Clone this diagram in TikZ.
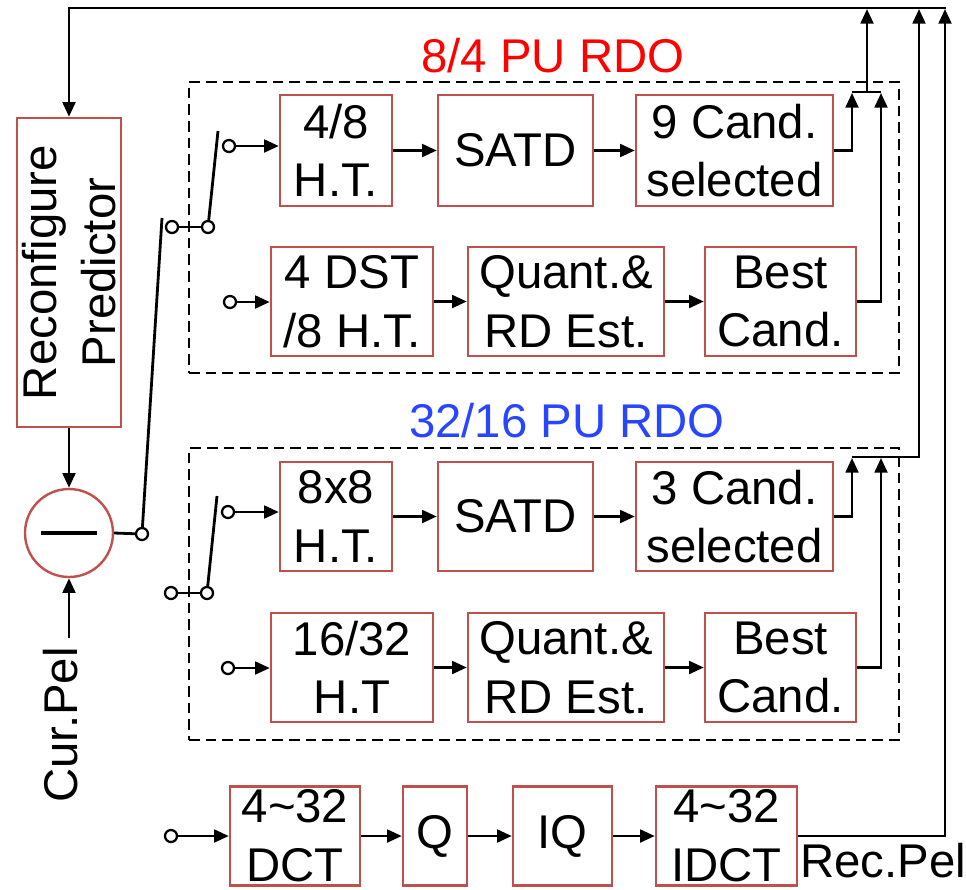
\documentclass[tikz,border=0pt]{standalone}
\usepackage{fontspec}
\setmainfont{Liberation Sans}
\usetikzlibrary{arrows.meta,calc}
\definecolor{boxred}{RGB}{192,80,77}
\definecolor{ttlred}{RGB}{255,0,0}
\definecolor{ttlblue}{RGB}{40,70,255}
\begin{document}
\begin{tikzpicture}[x=0.75pt,y=-0.75pt,
  bsz/.style 2 args={minimum width=#1*0.75pt, minimum height=#2*0.75pt},
  blk/.style={draw=boxred, line width=1.8pt, inner sep=0pt, align=center, font=\fontsize{35.5}{44}\selectfont},
  ln/.style={line width=2.1pt, draw=black},
  arr/.style={ln, -{Triangle[length=11pt,width=9.5pt]}},
  term/.style={circle, draw=black, line width=1.7pt, inner sep=0pt, minimum size=9pt, fill=white},
  dbox/.style={draw=black, line width=2.1pt, dash pattern=on 8pt off 4.5pt, inner sep=0pt},
  lbl/.style={font=\fontsize{35.5}{44}\selectfont, inner sep=0pt, align=center}
]
\useasboundingbox[fill=white] (0,0) rectangle (966,889);

% dashed groups
\node[dbox, bsz={710}{291}] (g1) at (544,227.5) {};
\node[dbox, bsz={710}{292}] (g2) at (544,594) {};
\node[lbl, text=ttlred, anchor=base] (t1) at (553,72) {8/4 PU RDO};
\node[lbl, text=ttlblue, anchor=base] (t2) at (567,437) {32/16 PU RDO};

% predictor and subtractor
\node[blk, bsz={104}{309}] (recon) at (69,272.5) {};
\node[lbl, rotate=90] (recontxt) at (recon.center) {Reconfigure\\Predictor};
\node[circle, draw=boxred, line width=1.8pt, minimum size=66pt, inner sep=0pt] (sub) at (69,533) {};
\coordinate (mL) at (41,533);
\coordinate (mR) at (97,533);
\draw[line width=2.4pt] (mL) -- (mR);
\node[lbl, rotate=90] (cur) at (61,725) {Cur.Pel};
\coordinate (curtop) at (69,638);
\draw[arr] (curtop) -- (sub.south);
\draw[arr] (recon.south) -- (sub.north);

% row 1
\node[blk, bsz={112}{111}] (ht48) at (336,150.5) {4/8\\H.T.};
\node[blk, bsz={155}{111}] (satd1) at (515.5,150.5) {SATD};
\node[blk, bsz={197}{111}] (cand9) at (734.5,150.5) {9 Cand.\\selected};
% row 2
\node[blk, bsz={162}{109}] (dst) at (352,301.5) {4 DST\\/8 H.T.};
\node[blk, bsz={196}{109}] (qnt1) at (566,301.5) {Quant.\&\\RD Est.};
\node[blk, bsz={151}{109}] (best1) at (780.5,301.5) {Best\\Cand.};
% row 3
\node[blk, bsz={112}{109}] (ht88) at (336,516.5) {8x8\\H.T.};
\node[blk, bsz={155}{109}] (satd2) at (515.5,516.5) {SATD};
\node[blk, bsz={197}{109}] (cand3) at (734.5,516.5) {3 Cand.\\selected};
% row 4
\node[blk, bsz={162}{109}] (h1632) at (352,667.5) {16/32\\H.T};
\node[blk, bsz={196}{109}] (qnt2) at (566,667.5) {Quant.\&\\RD Est.};
\node[blk, bsz={151}{109}] (best2) at (780.5,667.5) {Best\\Cand.};
% row 5
\node[blk, bsz={130}{99}] (dct) at (295,836) {4\textasciitilde32\\DCT};
\node[blk, bsz={64}{99}] (qq) at (435,836) {Q};
\node[blk, bsz={99}{99}] (iq) at (562.5,836) {IQ};
\node[blk, bsz={141}{99}] (idct) at (726.5,836) {4\textasciitilde32\\IDCT};
\node[lbl, anchor=base west] (rec) at (800,877) {Rec.Pel};

% switches
\node[term] (s0) at (142,534) {};
\draw[ln] (sub.east) -- (s0);
\coordinate (bl0) at (162,218);
\draw[ln] (s0) -- (bl0);
\node[term] (u1) at (172,227) {};
\node[term] (u2) at (208,227) {};
\draw[ln] (u1) -- (u2);
\coordinate (bl1) at (218,131);
\draw[ln] (u2) -- (bl1);
\node[term] (u3) at (229,146) {};
\node[term] (u4) at (230,302) {};
\node[term] (l1) at (171,593) {};
\node[term] (l2) at (207,593) {};
\draw[ln] (l1) -- (l2);
\coordinate (bl2) at (217,496);
\draw[ln] (l2) -- (bl2);
\node[term] (l3) at (228,512) {};
\node[term] (l4) at (228,668) {};
\node[term] (b0) at (171,836) {};

\draw[arr] (u3) -- (u3 -| ht48.west);
\draw[arr] (u4) -- (u4 -| dst.west);
\draw[arr] (l3) -- (l3 -| ht88.west);
\draw[arr] (l4) -- (l4 -| h1632.west);
\draw[arr] (b0) -- (b0 -| dct.west);

% row arrows
\draw[arr] (ht48) -- (satd1);
\draw[arr] (satd1) -- (cand9);
\draw[arr] (dst) -- (qnt1);
\draw[arr] (qnt1) -- (best1);
\draw[arr] (ht88) -- (satd2);
\draw[arr] (satd2) -- (cand3);
\draw[arr] (h1632) -- (qnt2);
\draw[arr] (qnt2) -- (best2);
\draw[arr] (dct) -- (qq);
\draw[arr] (qq) -- (iq);
\draw[arr] (iq) -- (idct);

% top feedback line
\coordinate (tl) at (69,8);
\coordinate (tr) at (946,8);
\coordinate (top1) at (867,8);
\coordinate (top2) at (919,8);
\coordinate (top3) at (945,8);
\draw[arr] (tr) -- (tl) -- (recon.north);

% 8/4 outputs
\coordinate (j1a) at (852,92);
\coordinate (j1m) at (867,92);
\coordinate (j1b) at (881,92);
\draw[ln] (j1a) -- (j1b);
\draw[arr, shorten >=0.7pt] (cand9.east) -| (j1a);
\draw[arr, shorten >=0.7pt] (best1.east) -| (j1b);
\draw[arr, shorten >=0.7pt] (j1m) -- (top1);

% 32/16 outputs
\coordinate (j2a) at (852,457);
\coordinate (j2b) at (881,457);
\coordinate (j2c) at (919,457);
\draw[arr, shorten >=0.7pt] (j2a) -- (j2c) -- (top2);
\draw[arr, shorten >=0.7pt] (cand3.east) -| (j2a);
\draw[arr, shorten >=0.7pt] (best2.east) -| (j2b);

% reconstruction
\draw[arr, shorten >=0.7pt] (idct.east) -| (top3);
\end{tikzpicture}
\end{document}
